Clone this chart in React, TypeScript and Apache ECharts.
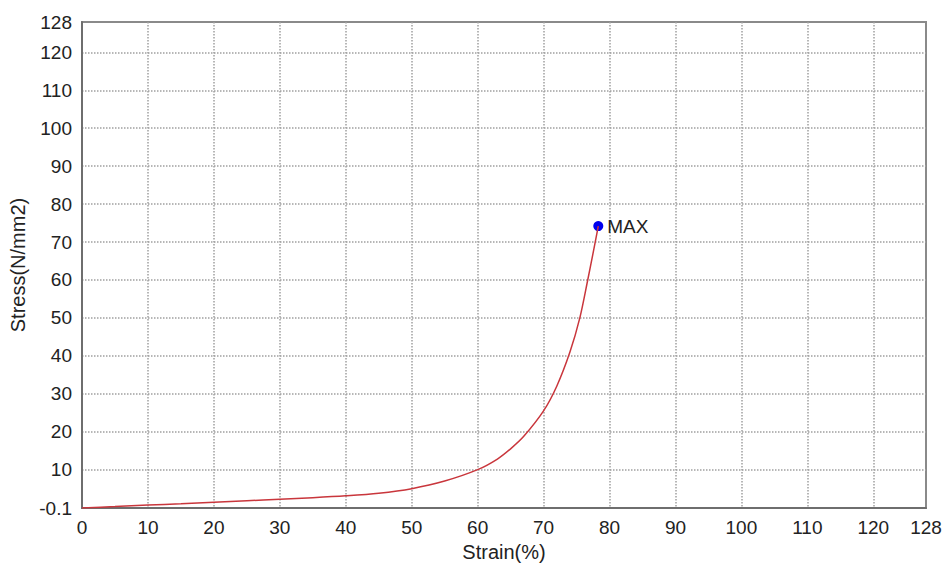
import React, { useEffect, useRef } from "react";
import * as echarts from "echarts";

const strain = [0, 5, 10, 15, 20, 25, 30, 35, 40, 45, 50, 55, 60, 63, 65, 67, 70, 72, 74, 75.5, 76.7, 77.5, 78.3];
const stress = [-0.1, 0.3, 0.7, 1.0, 1.4, 1.8, 2.2, 2.6, 3.1, 3.8, 5.0, 7.0, 10.0, 12.8, 15.5, 18.8, 25.5, 32.0, 41.0, 50.0, 60.0, 67.0, 74.2];
const maxPoint = [78.3, 74.2];
const maxLabel = "MAX";
const xTickLabels = [0, 10, 20, 30, 40, 50, 60, 70, 80, 90, 100, 110, 120, 128];
const yTickLabels = [-0.1, 10, 20, 30, 40, 50, 60, 70, 80, 90, 100, 110, 120, 128];
const xGrid = [10, 20, 30, 40, 50, 60, 70, 80, 90, 100, 110, 120];
const yGrid = [10, 20, 30, 40, 50, 60, 70, 80, 90, 100, 110, 120];

export default function App() {
  const ref = useRef<HTMLDivElement>(null);
  useEffect(() => {
    if (!ref.current) return;
    const chart = echarts.init(ref.current, null, { renderer: "svg" });
    const font = "'Liberation Sans', Arial, sans-serif";
    const labelColor = "#222222";
    const splitLine = { show: true, lineStyle: { color: "#a0a0a0", type: "dotted", width: 1.5 } };
    const axisLine = { show: true, lineStyle: { color: "#6e6e6e", width: 2 } };
    chart.setOption({
      animation: false,
      backgroundColor: "#ffffff",
      grid: {
        left: 82, right: 20, top: 22, bottom: 60,
        show: true, borderColor: "#8a8a8a", borderWidth: 2, backgroundColor: "transparent",
      },
      xAxis: {
        type: "value", min: 0, max: 128,
        name: "Strain(%)", nameLocation: "middle", nameGap: 33,
        nameTextStyle: { fontSize: 20, color: labelColor, fontFamily: font },
        axisLine,
        axisTick: { show: false, customValues: xGrid },
        axisLabel: { customValues: xTickLabels, fontSize: 19, color: labelColor, fontFamily: font, margin: 10 },
        splitLine,
      },
      yAxis: {
        type: "value", min: -0.1, max: 128,
        name: "Stress(N/mm2)", nameLocation: "middle", nameGap: 48,
        nameTextStyle: { fontSize: 20, color: labelColor, fontFamily: font },
        axisLine,
        axisTick: { show: false, customValues: yGrid },
        axisLabel: { customValues: yTickLabels, fontSize: 19, color: labelColor, fontFamily: font, margin: 10 },
        splitLine,
      },
      series: [
        {
          type: "line",
          data: strain.map((x, i) => [x, stress[i]]),
          smooth: 0.3,
          showSymbol: false,
          lineStyle: { color: "#c9363c", width: 1.5 },
        },
        {
          type: "scatter",
          data: [maxPoint],
          symbolSize: 10,
          itemStyle: { color: "#0000ee", opacity: 1 },
          label: {
            show: true, position: "right", distance: 4, formatter: maxLabel,
            fontSize: 19, color: labelColor, fontFamily: font,
          },
        },
      ],
    });
    return () => chart.dispose();
  }, []);
  return <div ref={ref} style={{ width: 946, height: 568, position: "absolute", left: 0, top: 0 }} />;
}
